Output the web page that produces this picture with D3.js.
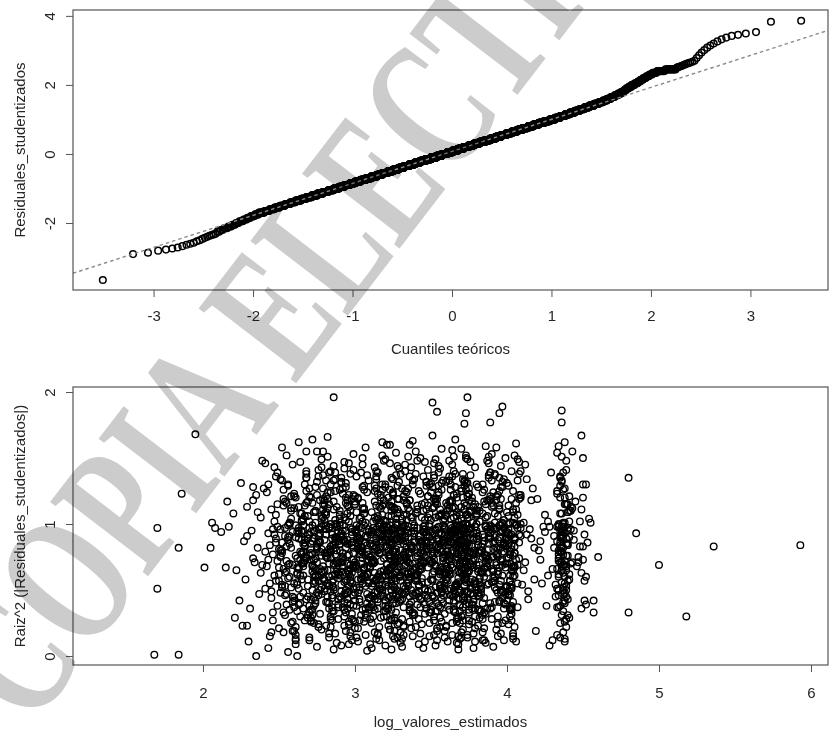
<!DOCTYPE html>
<html lang="es">
<head>
<meta charset="utf-8">
<title>Diagnóstico de residuos</title>
<script src="https://cdn.jsdelivr.net/npm/d3@7/dist/d3.min.js"></script>
<style>
  html, body { margin: 0; padding: 0; background: #fff; }
  svg { display: block; }
  .lbl { font-family: "Liberation Sans", Arial, Helvetica, sans-serif; font-size: 15px; fill: #262626; }
</style>
</head>
<body>
<svg id="chart" width="835" height="742"></svg>
<script>
// ---------------- data ----------------

// Studentized residuals (normal Q-Q panel), in ascending order.
// Lowest observations, one by one:
const residLowTail = [-3.65,-2.90,-2.86,-2.80,-2.77,-2.74,-2.71,-2.67,-2.63,-2.60,
  -2.57,-2.53,-2.50,-2.46,-2.43,-2.40,-2.37,-2.35,-2.33,-2.31];
// Central part as a frequency table: residual value and number of observations.
const residLevels = [-2.25,-2.20,-2.15,-2.10,-2.05,-2.00,-1.95,-1.90,-1.85,-1.80,-1.75,
  -1.70,-1.65,-1.60,-1.55,-1.50,-1.45,-1.40,-1.35,-1.30,-1.25,
  -1.20,-1.15,-1.10,-1.05,-1.00,-0.95,-0.90,-0.85,-0.80,-0.75,
  -0.70,-0.65,-0.60,-0.55,-0.50,-0.45,-0.40,-0.35,-0.30,-0.25,
  -0.20,-0.15,-0.10,-0.05,0.00,0.05,0.10,0.15,0.20,0.25,
  0.30,0.35,0.40,0.45,0.50,0.55,0.60,0.65,0.70,0.75,
  0.80,0.85,0.90,0.95,1.00,
  1.05,1.10,1.15,1.20,1.25,
  1.30,1.35,1.40,1.45,1.50,
  1.55,1.60,1.65,1.70,1.75,1.80,1.85,
  1.90,1.95,2.00,2.05,2.10,2.15,
  2.20,2.25,2.30,2.35,
  2.40,2.45];
const residCounts = [2,2,3,3,3,3,4,4,4,5,5,
  8,8,9,10,11,12,13,15,16,17,
  19,20,22,23,25,26,28,29,31,33,
  34,36,37,39,40,41,42,44,45,46,
  46,47,48,48,48,48,48,48,48,47,
  47,46,45,44,43,42,41,40,38,37,
  35,34,32,31,29,
  26,24,22,21,20,
  18,17,16,14,13,
  11,10,9,8,7,6,4,
  5,5,5,5,4,4,
  4,4,4,5,
  8,9];
// Highest observations, one by one:
const residHighTail = [2.50,2.52,2.53,2.55,2.57,2.59,2.61,2.63,2.65,2.67,
  2.70,2.78,2.86,2.94,3.01,3.08,3.14,3.20,3.26,3.32,
  3.37,3.42,3.45,3.49,3.53,3.83,3.86];

// Scale-location panel: log of fitted values vs square root of |studentized residual|.
// Isolated observations around the cloud:
const edgeLogFit = [1.68,1.84,2.35,2.62,1.70,1.70,1.84,1.86,1.95,2.01,2.05,2.06,2.08,2.12,2.15,2.16,2.17,2.20,2.21,2.29,2.33,2.41,2.43,2.45,
  2.86,3.74,3.51,3.54,3.97,3.95,3.73,3.89,3.72,4.36,4.36,4.49,2.72,2.68,2.79,3.18,3.23,3.36,3.51,
  4.80,4.85,5.36,5.93,5.00,4.80,5.18,4.57,4.57,4.60,4.49,4.50,4.50,4.51,4.48,4.49,4.50,4.50,4.43,4.38,4.51,4.52];
const edgeRootRes = [.01,.01,.00,.00,.51,.97,.82,1.23,1.68,.67,.82,1.01,.97,.94,.67,1.17,.98,1.08,.29,.23,1.28,1.46,1.30,.18,
  1.96,1.96,1.92,1.85,1.89,1.84,1.84,1.77,1.76,1.86,1.77,1.67,1.64,1.55,1.55,1.62,1.60,1.60,1.67,
  1.35,.93,.83,.84,.69,.33,.30,.33,.42,.75,.63,.73,.83,.92,1.02,1.11,1.20,1.30,1.55,.11,.42,.60];
// Main cloud:
const coreLogFit = [
  2.27,2.24,2.29,2.22,2.26,2.29,2.25,2.28,
  2.33,2.38,2.31,2.36,2.39,2.30,2.35,2.37,2.32,2.39,2.34,2.36,2.38,2.33,2.39,
  2.44,2.41,2.48,2.46,2.43,2.49,2.45,2.47,2.42,2.48,2.40,2.46,2.49,2.44,2.47,2.43,
  2.45,2.48,2.41,2.49,2.46,2.42,2.47,2.44,2.48,2.45,2.49,2.43,2.46,2.47,2.48,2.49,
  2.53,2.57,2.50,2.55,2.59,2.52,2.56,2.51,2.58,2.54,
  2.56,2.50,2.58,2.53,2.55,2.59,2.51,2.57,2.54,2.52,
  2.55,2.58,2.52,2.59,2.50,2.54,2.57,2.53,2.56,2.51,
  2.58,2.54,2.56,2.51,2.59,2.53,2.55,2.50,2.57,2.52,
  2.54,2.59,2.57,2.52,2.56,2.55,2.58,2.53,2.59,2.51,2.57,2.56,
  2.64,2.61,2.67,2.60,2.69,2.63,2.66,2.62,2.68,2.65,
  2.61,2.68,2.63,2.66,2.60,2.65,2.69,2.62,2.67,2.64,
  2.66,2.63,2.60,2.68,2.65,2.61,2.64,2.69,2.62,2.67,
  2.69,2.65,2.62,2.67,2.64,2.60,2.66,2.63,2.61,2.68,
  2.62,2.67,2.65,2.61,2.69,2.64,2.68,2.60,2.63,2.66,
  2.68,2.60,2.64,2.66,2.62,2.69,2.61,2.65,2.67,2.63,
  2.61,2.65,2.67,2.63,2.69,2.66,
  2.72,2.75,2.70,2.78,2.73,2.76,2.71,2.79,2.74,2.77,
  2.76,2.71,2.79,2.74,2.70,2.77,2.73,2.75,2.78,2.72,
  2.74,2.78,2.72,2.70,2.76,2.79,2.75,2.71,2.73,2.77,
  2.79,2.73,2.77,2.75,2.71,2.72,2.78,2.70,2.76,2.74,
  2.70,2.76,2.74,2.72,2.78,2.75,2.77,2.79,2.71,2.73,
  2.77,2.72,2.75,2.79,2.74,2.70,2.71,2.76,2.78,2.73,
  2.75,2.79,2.71,2.73,2.76,2.78,2.72,2.74,2.70,2.77,
  2.71,2.73,2.74,2.75,2.77,2.78,
  2.83,2.86,2.81,2.88,2.84,2.80,2.87,2.82,2.89,2.85,
  2.87,2.80,2.85,2.82,2.89,2.83,2.86,2.88,2.81,2.84,
  2.81,2.89,2.84,2.86,2.83,2.87,2.80,2.85,2.88,2.82,
  2.88,2.84,2.82,2.80,2.86,2.89,2.85,2.81,2.83,2.87,
  2.85,2.82,2.88,2.83,2.81,2.84,2.89,2.87,2.80,2.86,
  2.80,2.87,2.83,2.89,2.85,2.82,2.84,2.86,2.81,2.88,
  2.86,2.81,2.89,2.84,2.87,2.85,2.80,2.83,2.88,2.82,
  2.82,2.88,2.86,2.81,2.80,2.83,2.85,2.87,2.89,2.84,
  2.84,2.87,
  2.94,2.91,2.97,2.90,2.95,2.98,2.92,2.96,2.93,2.99,
  2.97,2.93,2.90,2.98,2.92,2.95,2.99,2.91,2.96,2.94,
  2.92,2.98,2.95,2.91,2.99,2.94,2.97,2.93,2.90,2.96,
  2.99,2.95,2.93,2.96,2.90,2.97,2.91,2.98,2.94,2.92,
  2.96,2.90,2.98,2.94,2.93,2.91,2.95,2.99,2.92,2.97,
  2.91,2.97,2.94,2.99,2.96,2.92,2.90,2.93,2.98,2.95,
  2.98,2.94,2.92,2.97,2.91,2.99,2.96,2.95,2.93,2.90,
  2.93,2.96,2.99,2.92,2.98,2.90,2.94,2.97,2.95,2.91,
  2.91,2.92,2.94,2.95,2.96,2.97,2.98,2.99,
  3.03,3.07,3.00,3.05,3.09,3.02,3.06,3.01,3.08,3.04,
  3.06,3.01,3.09,3.03,3.00,3.08,3.04,3.07,3.02,3.05,
  3.09,3.04,3.02,3.07,3.05,3.00,3.03,3.08,3.06,3.01,
  3.01,3.08,3.05,3.00,3.02,3.06,3.09,3.04,3.07,3.03,
  3.07,3.03,3.06,3.09,3.01,3.04,3.00,3.05,3.08,3.02,
  3.04,3.00,3.08,3.02,3.06,3.09,3.07,3.01,3.03,3.05,
  3.02,3.05,3.01,3.06,3.08,3.03,3.05,3.09,3.00,3.07,
  3.08,3.06,3.03,3.04,3.07,3.02,3.01,3.00,3.09,3.04,
  3.01,3.02,3.04,3.05,3.07,3.08,
  3.14,3.11,3.17,3.10,3.19,3.13,3.16,3.12,3.18,3.15,
  3.17,3.12,3.15,3.19,3.11,3.14,3.10,3.18,3.13,3.16,
  3.11,3.18,3.13,3.16,3.14,3.10,3.19,3.15,3.12,3.17,
  3.19,3.15,3.10,3.13,3.17,3.12,3.16,3.11,3.14,3.18,
  3.13,3.16,3.18,3.11,3.15,3.19,3.12,3.17,3.10,3.14,
  3.16,3.10,3.12,3.18,3.19,3.14,3.11,3.13,3.17,3.15,
  3.18,3.14,3.17,3.15,3.12,3.11,3.13,3.10,3.16,3.19,
  3.12,3.19,3.11,3.14,3.16,3.17,3.15,3.18,3.10,3.13,
  3.15,3.13,3.19,3.16,3.10,3.18,3.12,3.14,3.11,3.17,
  3.12,3.17,
  3.24,3.21,3.27,3.20,3.25,3.28,3.22,3.26,3.23,3.29,
  3.26,3.23,3.20,3.28,3.24,3.29,3.21,3.25,3.27,3.22,
  3.22,3.28,3.25,3.21,3.29,3.24,3.26,3.20,3.23,3.27,
  3.29,3.25,3.23,3.27,3.20,3.22,3.28,3.24,3.26,3.21,
  3.27,3.20,3.24,3.22,3.26,3.21,3.23,3.29,3.25,3.28,
  3.21,3.26,3.29,3.24,3.22,3.27,3.25,3.28,3.20,3.23,
  3.25,3.29,3.22,3.26,3.28,3.23,3.20,3.21,3.27,3.24,
  3.28,3.24,3.26,3.20,3.21,3.25,3.27,3.22,3.29,3.23,
  3.23,3.27,3.21,3.29,3.25,3.28,3.24,3.26,3.22,3.20,
  3.20,3.22,3.28,3.23,3.24,3.26,3.29,3.27,3.21,3.25,
  3.22,3.23,3.24,3.25,3.26,3.27,3.25,3.24,
  3.34,3.31,3.37,3.30,3.36,3.32,3.39,3.33,3.35,3.38,
  3.37,3.33,3.30,3.35,3.39,3.31,3.34,3.38,3.32,3.36,
  3.31,3.38,3.35,3.32,3.30,3.36,3.33,3.39,3.37,3.34,
  3.39,3.35,3.32,3.37,3.34,3.30,3.38,3.31,3.36,3.33,
  3.33,3.36,3.39,3.31,3.38,3.34,3.30,3.37,3.35,3.32,
  3.36,3.30,3.34,3.38,3.33,3.37,3.32,3.35,3.31,3.39,
  3.32,3.39,3.36,3.34,3.31,3.35,3.37,3.30,3.38,3.33,
  3.38,3.34,3.31,3.33,3.37,3.39,3.36,3.32,3.30,3.35,
  3.35,3.37,3.33,3.30,3.32,3.38,3.31,3.39,3.34,3.36,
  3.31,3.33,
  3.44,3.41,3.47,3.40,3.45,3.49,3.42,3.46,3.43,3.48,
  3.47,3.43,3.40,3.48,3.42,3.45,3.41,3.49,3.46,3.44,
  3.42,3.48,3.45,3.41,3.49,3.44,3.47,3.43,3.40,3.46,
  3.49,3.45,3.43,3.46,3.40,3.47,3.42,3.48,3.44,3.41,
  3.46,3.40,3.44,3.42,3.48,3.41,3.43,3.45,3.49,3.47,
  3.41,3.47,3.49,3.44,3.46,3.42,3.40,3.48,3.43,3.45,
  3.43,3.46,3.41,3.45,3.47,3.49,3.44,3.40,3.42,3.48,
  3.48,3.42,3.46,3.49,3.41,3.43,3.45,3.47,3.40,3.44,
  3.41,3.43,3.45,3.46,3.48,3.49,
  3.54,3.51,3.57,3.50,3.55,3.59,3.52,3.56,3.53,3.58,
  3.57,3.53,3.50,3.58,3.52,3.55,3.59,3.51,3.56,3.54,
  3.52,3.58,3.55,3.51,3.59,3.54,3.57,3.53,3.50,3.56,
  3.59,3.55,3.53,3.56,3.50,3.57,3.51,3.58,3.54,3.52,
  3.56,3.50,3.54,3.52,3.58,3.51,3.53,3.59,3.55,3.57,
  3.51,3.57,3.59,3.54,3.56,3.52,3.50,3.58,3.53,3.55,
  3.53,3.56,3.51,3.55,3.57,3.59,3.54,3.50,3.52,3.58,
  3.58,3.52,3.56,3.59,3.51,3.53,3.55,3.57,3.50,3.54,
  3.55,3.59,3.50,3.53,3.57,3.52,3.56,3.54,3.58,3.51,
  3.55,3.57,3.58,3.59,3.59,3.56,
  3.64,3.61,3.67,3.60,3.65,3.69,3.62,3.66,3.63,3.68,
  3.67,3.63,3.60,3.68,3.62,3.65,3.69,3.61,3.66,3.64,
  3.62,3.68,3.65,3.61,3.69,3.64,3.67,3.63,3.60,3.66,
  3.69,3.65,3.63,3.66,3.60,3.67,3.61,3.68,3.64,3.62,
  3.66,3.60,3.64,3.62,3.68,3.61,3.63,3.69,3.65,3.67,
  3.61,3.67,3.69,3.64,3.66,3.62,3.60,3.68,3.63,3.65,
  3.63,3.66,3.61,3.65,3.67,3.69,3.64,3.60,3.62,3.68,
  3.68,3.62,3.66,3.69,3.61,3.63,3.65,3.67,3.60,3.64,
  3.65,3.69,3.60,3.63,3.67,3.62,3.66,3.64,3.68,3.61,
  3.60,3.64,3.68,3.61,3.65,3.67,3.62,3.69,3.63,3.66,
  3.67,3.63,3.65,3.61,3.69,3.66,3.60,3.64,3.62,3.68,
  3.68,3.69,
  3.74,3.71,3.77,3.70,3.75,3.79,3.72,3.76,3.73,3.78,
  3.77,3.73,3.70,3.78,3.72,3.75,3.79,3.71,3.76,3.74,
  3.72,3.78,3.75,3.71,3.79,3.74,3.77,3.73,3.70,3.76,
  3.79,3.75,3.73,3.76,3.70,3.77,3.71,3.78,3.74,3.72,
  3.76,3.70,3.74,3.72,3.78,3.71,3.73,3.79,3.75,3.77,
  3.71,3.77,3.79,3.74,3.76,3.72,3.70,3.78,3.73,3.75,
  3.73,3.76,3.71,3.75,3.77,3.79,3.74,3.70,3.72,3.78,
  3.78,3.72,3.76,3.79,3.71,3.73,3.75,3.77,3.70,3.74,
  3.75,3.79,3.70,3.73,3.77,3.72,3.76,3.74,3.78,3.71,
  3.70,3.74,3.78,3.71,3.75,3.77,3.72,3.79,3.73,3.76,
  3.72,3.73,3.74,3.71,3.75,3.72,3.70,3.73,3.71,3.74,
  3.72,3.73,3.74,3.75,3.71,3.72,3.73,3.74,
  3.84,3.81,3.87,3.80,3.85,3.89,3.82,3.86,3.83,3.88,
  3.87,3.83,3.80,3.88,3.82,3.85,3.89,3.81,3.86,3.84,
  3.82,3.88,3.85,3.81,3.89,3.84,3.87,3.83,3.80,3.86,
  3.89,3.85,3.83,3.86,3.80,3.87,3.81,3.88,3.84,3.82,
  3.86,3.80,3.84,3.82,3.88,3.81,3.83,3.89,3.85,3.87,
  3.81,3.87,3.89,3.84,3.86,3.82,3.80,3.88,3.83,3.85,
  3.83,3.86,3.81,3.85,3.87,3.89,3.84,3.80,3.82,3.88,
  3.88,3.82,3.86,3.89,3.81,3.83,3.85,3.87,3.80,3.84,
  3.81,3.85,
  3.94,3.91,3.97,3.90,3.95,3.99,3.92,3.96,3.93,3.98,
  3.97,3.93,3.90,3.98,3.92,3.95,3.99,3.91,3.96,3.94,
  3.92,3.98,3.95,3.91,3.99,3.94,3.97,3.93,3.90,3.96,
  3.99,3.95,3.93,3.96,3.90,3.97,3.91,3.98,3.94,3.92,
  3.96,3.90,3.94,3.92,3.98,3.91,3.93,3.99,3.95,3.97,
  3.91,3.97,3.99,3.94,3.96,3.92,3.90,3.98,3.93,3.95,
  3.93,3.96,3.91,3.95,3.97,3.99,3.94,3.90,3.92,3.98,
  3.91,3.92,3.94,3.95,3.97,3.98,3.99,3.96,
  4.04,4.01,4.07,4.00,4.05,4.09,4.02,4.06,4.03,4.08,
  4.07,4.03,4.00,4.08,4.02,4.05,4.09,4.01,4.06,4.04,
  4.02,4.08,4.05,4.01,4.09,4.04,4.07,4.03,4.00,4.06,
  4.09,4.05,4.03,4.06,4.00,4.07,4.01,4.08,4.04,4.02,
  4.06,4.00,4.04,4.02,4.08,4.01,4.03,4.09,4.05,4.07,
  4.01,4.07,4.09,4.04,4.06,4.02,4.00,4.08,4.03,4.05,
  4.00,4.01,4.01,4.02,4.02,4.03,4.03,4.04,4.04,4.05,
  4.05,4.06,4.00,4.03,
  4.13,4.10,4.17,4.12,4.15,4.19,4.11,4.16,4.14,4.18,4.11,4.13,4.14,4.16,4.18,4.12,
  4.24,4.21,4.27,4.20,4.26,4.22,4.29,4.23,4.25,4.28,4.22,4.25,4.27,4.28,
  4.36,4.33,4.39,4.31,4.37,4.34,4.40,4.35,4.38,4.42,
  4.38,4.34,4.41,4.36,4.30,4.39,4.33,4.37,4.35,4.40,
  4.35,4.40,4.37,4.33,4.42,4.36,4.39,4.34,4.38,4.32,
  4.41,4.37,4.35,4.39,4.34,4.38,4.36,4.43,4.33,4.40,
  4.39,4.35,4.38,4.40,4.36,4.33,4.41,4.37,4.34,4.44,
  4.33,4.38,4.42,4.35,4.39,4.37,4.34,4.40,4.36,4.31,
  4.37,4.41,4.34,4.38,4.36,4.39,4.35,4.33,4.42,4.38,
  4.40,4.36,4.39,4.34,4.37,4.35,4.43,4.38,4.41,4.36,
  4.34,4.37,4.35,4.40,4.32,4.38,4.36,4.39,4.37,4.45,
  4.36,4.38,4.35,4.37,4.39,4.34,4.30,4.44,4.41,4.37,
  4.47,4.52,4.49,4.55,4.46,4.50,4.53,4.48,4.51,4.54,4.47,4.52];
const coreRootRes = [
  .87,.42,1.13,.65,.23,.91,1.31,.58,.74,1.05,.36,.82,.69,.11,1.22,.47,.95,1.48,.71,1.09,
  .63,1.18,.29,.84,.51,1.36,.77,.06,.98,.44,1.02,.68,.89,1.27,.33,.72,.55,1.43,.93,1.11,
  1.07,.79,.38,.96,1.24,.61,.15,.86,.49,1.15,.73,.27,.92,.57,1.39,.66,1.01,.81,1.52,.45,
  .54,.99,.76,1.21,.31,.88,.62,1.04,.18,.83,.41,1.34,.70,.97,.52,1.16,.25,.78,1.45,.67,
  .91,.35,1.26,.59,.80,1.10,.46,.03,.75,.94,1.19,.64,.21,.85,1.33,.53,.69,1.00,1.58,.90,
  .47,.82,1.14,.26,.96,.60,1.29,.73,.13,.88,.55,1.06,.39,.79,.67,1.38,.94,1.20,.43,1.62,
  .71,1.23,.58,.92,.34,.84,1.08,.48,.66,.19,1.40,.77,.99,.30,1.17,.62,.86,.53,1.03,.74,
  .83,.40,1.12,.68,.97,.22,1.35,.56,.75,1.02,.09,.89,.61,1.25,.44,.93,.70,1.16,.37,1.47,
  1.04,.63,.29,.90,.78,1.30,.51,.16,.95,.72,1.13,.45,.85,.64,1.22,.33,.98,.57,1.41,.81,
  .59,1.09,.86,.24,.73,1.37,.42,.92,1.18,.67,.07,.81,.50,1.01,.76,.35,1.27,.96,.64,1.55,
  .94,.38,.79,1.15,.55,.87,1.32,.27,.69,1.06,.12,.91,.61,1.21,.46,.74,.99,1.43,.82,.66,
  .68,1.20,.44,.97,.31,.83,1.05,.60,.14,.78,1.36,.52,.89,.71,1.11,.26,.95,.57,1.49,.87,
  1.10,.76,.32,.85,.62,1.28,.48,.93,.20,.70,1.17,.41,.80,1.00,.58,1.39,.65,.88,.37,1.03,
  .57,.92,1.24,.39,.81,.05,.66,1.09,.49,.99,.28,.75,1.33,.60,.86,1.14,.44,.72,1.51,.90,
  .79,.45,1.03,.70,.94,.34,1.21,.53,.17,.84,1.12,.64,.97,.23,1.30,.59,.77,.88,1.44,1.08,
  .62,1.15,.87,.27,.74,1.40,.50,.96,.10,.69,1.07,.43,.83,1.25,.56,.78,.36,.98,1.19,1.66,
  .98,.52,.76,1.18,.40,.89,1.34,.63,.22,.81,1.00,.47,.71,.15,1.26,.58,.92,.68,1.46,1.05,
  .73,1.06,.30,.91,.55,1.23,.85,.46,.08,.77,1.16,.37,.94,.65,1.31,.51,.82,.60,1.42,.99,
  1.13,.67,.43,.88,.26,.80,1.38,.54,.96,.19,.72,1.02,.61,.84,1.20,.35,.90,.48,1.53,.75,
  .56,.93,1.10,.33,.78,.64,1.27,.45,.87,.12,.70,1.19,.50,.99,.39,1.35,.82,.62,1.08,1.47,
  .85,.41,1.22,.69,.95,.28,1.04,.57,.18,.76,1.32,.49,.88,.63,1.14,.24,.97,.73,1.41,.80,
  .60,1.17,.79,.37,.90,1.29,.52,.04,.83,.66,1.09,.44,.98,.71,1.24,.31,.86,.58,1.50,.94,
  .92,.48,1.01,.74,.21,.87,1.37,.61,.96,.14,.68,1.12,.42,.81,1.26,.55,.77,.36,1.04,1.58,
  .77,1.08,.35,.93,.58,1.21,.82,.47,.11,.70,1.15,.40,.89,.65,1.33,.53,.99,.27,1.45,.86,
  1.02,.69,.26,.84,.50,1.28,.73,.95,.16,.62,1.11,.43,.80,.91,1.19,.38,.67,.56,1.39,.88,
  .66,.97,1.16,.32,.79,1.34,.46,.87,.09,.74,1.05,.54,.92,.60,1.23,.29,.83,.41,1.48,.71,
  .89,.44,1.07,.63,.98,.25,1.30,.57,.78,.13,.85,1.18,.49,.72,1.01,.34,.94,.68,1.43,1.12,
  .70,1.13,.39,.86,.61,1.25,.51,.96,.06,.80,1.03,.45,.91,.67,1.36,.22,.75,.59,1.52,.97,
  .96,.53,.81,1.20,.36,.90,1.27,.64,.17,.73,1.09,.48,.85,.62,1.15,.30,.99,.76,1.40,1.00,
  .58,1.04,.87,.28,.71,1.39,.43,.93,.12,.67,1.14,.55,.82,.95,1.22,.37,.78,.50,1.60,.88,
  .83,.46,1.11,.65,.92,.20,1.32,.59,.74,.08,.89,1.06,.41,.69,1.24,.33,.97,.62,1.44,.79,
  .64,1.19,.35,.94,.54,1.26,.81,.47,.15,.76,1.01,.42,.88,.72,1.35,.27,.98,.57,1.49,.85,
  1.06,.72,.30,.87,.49,1.22,.66,.91,.19,.60,1.13,.44,.79,.96,1.29,.38,.84,.53,1.42,.93,
  .75,.99,1.14,.34,.82,1.37,.50,.89,.05,.68,1.02,.56,.93,.63,1.20,.25,.77,.45,1.54,.70,
  .90,.43,1.08,.67,.97,.23,1.28,.61,.80,.14,.86,1.17,.52,.74,1.04,.36,.95,.65,1.46,1.10,
  .69,1.12,.40,.85,.58,1.24,.48,.94,.10,.78,1.07,.46,.90,.71,1.33,.21,.79,.60,1.51,.99,
  .97,.55,.83,1.18,.39,.91,1.30,.63,.16,.72,1.10,.51,.86,.64,1.16,.32,.98,.77,1.43,1.03,
  .61,1.05,.88,.26,.74,1.40,.45,.95,.13,.66,1.15,.57,.84,.93,1.21,.35,.80,.49,1.63,.87,
  .84,.47,1.12,.66,.93,.22,1.34,.60,.75,.07,.90,1.05,.42,.70,1.25,.31,.96,.63,1.45,.81,
  .65,1.18,.37,.95,.53,1.27,.82,.48,.18,.77,1.02,.43,.87,.73,1.36,.28,.99,.56,1.48,.86,
  1.08,.71,.33,.88,.50,1.23,.67,.92,.17,.61,1.14,.45,.78,.97,1.30,.39,.85,.54,1.41,.94,
  .76,.98,1.15,.36,.83,1.38,.51,.90,.06,.69,1.03,.57,.94,.64,1.21,.24,.78,.46,1.55,.72,
  .91,.44,1.09,.68,.96,.25,1.29,.62,.81,.15,.87,1.16,.53,.75,1.05,.37,.94,.66,1.47,1.11,
  .70,1.11,.41,.86,.59,1.25,.49,.95,.09,.79,1.08,.47,.91,.72,1.32,.22,.80,.61,1.50,.98,
  .96,.56,.84,1.19,.38,.92,1.31,.64,.14,.73,1.11,.52,.87,.65,1.17,.33,.99,.78,1.44,1.04,
  .62,1.06,.89,.27,.75,1.39,.46,.96,.12,.67,1.16,.58,.85,.94,1.22,.34,.81,.50,1.57,.88,
  .85,.48,1.13,.67,.94,.21,1.35,.61,.76,.08,.91,1.06,.43,.71,1.26,.32,.97,.64,1.46,.82,
  .66,1.19,.38,.96,.54,1.28,.83,.49,.19,.78,1.03,.44,.88,.74,1.37,.29,.98,.57,1.49,.87,
  1.07,.72,.34,.89,.51,1.24,.68,.93,.16,.62,1.15,.46,.79,.98,1.31,.40,.86,.55,1.42,.95,
  .77,.99,1.16,.35,.84,1.36,.52,.91,.05,.70,1.04,.58,.95,.65,1.22,.25,.79,.47,1.56,.73,
  .92,.45,1.10,.69,.97,.26,1.30,.63,.82,.13,.88,1.17,.54,.76,1.06,.38,.95,.67,1.48,1.12,
  .71,1.12,.42,.87,.60,1.26,.50,.96,.10,.80,1.09,.48,.92,.73,1.33,.23,.81,.62,1.51,.99,
  .95,.57,.85,1.20,.39,.93,1.32,.65,.15,.74,1.12,.53,.88,.66,1.18,.34,.98,.79,1.45,1.05,
  .63,1.07,.90,.28,.76,1.38,.47,.97,.11,.68,1.17,.59,.86,.95,1.23,.35,.82,.51,1.64,.89,
  .86,.49,1.14,.68,.95,.22,1.36,.62,.77,.09,.92,1.07,.44,.72,1.27,.33,.98,.65,1.47,.83,
  .67,1.20,.39,.97,.55,1.29,.84,.50,.20,.79,1.04,.45,.89,.75,1.38,.30,.99,.58,1.50,.88,
  1.09,.73,.35,.90,.52,1.25,.69,.94,.17,.63,1.16,.47,.80,.99,1.32,.41,.87,.56,1.43,.96,
  .78,1.00,1.17,.36,.85,1.37,.53,.92,.06,.71,1.05,.59,.96,.66,1.23,.26,.80,.48,1.57,.74,
  .93,.46,1.11,.70,.98,.27,1.31,.64,.83,.14,.89,1.18,.55,.77,1.07,.39,.96,.68,1.49,1.13,
  .72,1.13,.43,.88,.61,1.27,.51,.97,.11,.81,1.10,.49,.93,.74,1.34,.24,.82,.63,1.52,1.00,
  .94,.58,.86,1.21,.40,.94,1.33,.66,.16,.75,1.13,.54,.89,.67,1.19,.35,.99,.80,1.46,1.06,
  .64,1.08,.91,.29,.77,1.39,.48,.98,.12,.69,1.18,.60,.87,.96,1.24,.36,.83,.52,1.59,.90,
  .87,.50,1.15,.69,.96,.23,1.37,.63,.78,.10,.93,1.08,.45,.73,1.28,.34,.99,.66,1.48,.84,
  .68,1.21,.40,.98,.56,1.30,.85,.51,.21,.80,1.05,.46,.90,.76,1.39,.31,1.00,.59,1.51,.89,
  1.10,.74,.36,.91,.53,1.26,.70,.95,.18,.64,1.17,.48,.81,1.00,1.33,.42,.88,.57,1.44,.97,
  .79,1.01,1.18,.37,.86,1.38,.54,.93,.07,.72,1.06,.60,.97,.67,1.24,.27,.81,.49,1.58,.75,
  .94,.47,1.12,.71,.99,.28,1.32,.65,.84,.15,.90,1.19,.56,.78,1.08,.40,.97,.69,1.50,1.14,
  .73,1.14,.44,.89,.62,1.28,.52,.98,.12,.82,1.11,.50,.94,.75,1.35,.25,.83,.64,1.53,1.01,
  .97,.59,.87,1.22,.41,.95,1.34,.67,.17,.76,1.14,.55,.90,.68,1.20,.36,1.00,.81,1.47,1.07,
  .65,1.09,.92,.30,.78,1.40,.49,.99,.13,.70,1.19,.61,.88,.97,1.25,.37,.84,.53,1.61,.91,
  .88,.51,1.16,.70,.97,.24,1.38,.64,.79,.11,.94,1.09,.46,.74,1.29,.35,1.00,.67,1.49,.85,
  .69,1.22,.41,.99,.57,1.31,.86,.52,.22,.81,1.06,.47,.91,.77,1.40,.32,1.01,.60,1.52,.90,
  1.11,.75,.37,.92,.54,1.27,.71,.96,.19,.65,1.18,.49,.82,1.01,1.34,.43,.89,.58,1.45,.98,
  .80,1.02,1.19,.38,.87,1.39,.55,.94,.08,.73,1.07,.61,.98,.68,1.25,.28,.82,.50,1.59,.76,
  .95,.48,1.13,.72,1.00,.29,1.33,.66,.85,.16,.91,1.20,.57,.79,1.09,.41,.98,.70,1.51,1.15,
  .74,1.15,.45,.90,.63,1.29,.53,.99,.13,.83,1.12,.51,.95,.76,1.36,.26,.84,.65,1.54,1.02,
  .98,.60,.88,1.23,.42,.96,1.35,.68,.18,.77,1.15,.56,.91,.69,1.21,.37,1.01,.82,1.48,1.08,
  .66,1.10,.93,.31,.79,1.41,.50,1.00,.14,.71,1.20,.62,.89,.98,1.26,.38,.85,.54,1.62,.92,
  .89,.52,1.17,.71,.98,.25,1.39,.65,.80,.12,.95,1.10,.47,.75,1.30,.36,1.01,.68,1.50,.86,
  .83,.57,1.04,.71,.39];
// Densest part of the cloud:
const denseLogFit = [
  2.55,2.51,2.58,2.53,2.57,2.50,2.56,2.52,2.59,2.54,2.57,2.55,2.52,2.58,2.54,2.56,
  2.63,2.67,2.61,2.65,2.69,2.62,2.66,2.60,2.68,2.64,2.65,2.61,2.67,2.63,2.69,2.66,2.62,2.68,2.64,2.60,2.66,2.63,2.67,2.65,
  2.75,2.71,2.78,2.73,2.77,2.70,2.76,2.72,2.79,2.74,
  2.72,2.77,2.74,2.79,2.71,2.75,2.78,2.70,2.73,2.76,
  2.78,2.74,2.71,2.76,2.73,2.79,2.72,2.75,2.70,2.77,
  2.85,2.81,2.88,2.83,2.87,2.80,2.86,2.82,2.89,2.84,
  2.82,2.87,2.84,2.89,2.81,2.85,2.88,2.80,2.83,2.86,
  2.88,2.84,2.81,2.86,2.83,2.89,2.82,2.85,2.80,2.87,
  2.84,2.86,2.83,2.85,
  2.95,2.91,2.98,2.93,2.97,2.90,2.96,2.92,2.99,2.94,
  2.92,2.97,2.94,2.99,2.91,2.95,2.98,2.90,2.93,2.96,
  2.98,2.94,2.91,2.96,2.93,2.99,2.92,2.95,2.90,2.97,
  2.94,2.96,2.93,2.95,
  3.05,3.01,3.08,3.03,3.07,3.00,3.06,3.02,3.09,3.04,
  3.02,3.07,3.04,3.09,3.01,3.05,3.08,3.00,3.03,3.06,
  3.08,3.04,3.01,3.06,3.03,3.09,3.02,3.05,3.00,3.07,
  3.04,3.06,
  3.15,3.11,3.18,3.13,3.17,3.10,3.16,3.12,3.19,3.14,
  3.12,3.17,3.14,3.19,3.11,3.15,3.18,3.10,3.13,3.16,
  3.18,3.14,3.11,3.16,3.13,3.19,3.12,3.15,3.10,3.17,
  3.14,3.16,3.13,3.15,3.17,3.18,
  3.25,3.21,3.28,3.23,3.27,3.20,3.26,3.22,3.29,3.24,
  3.22,3.27,3.24,3.29,3.21,3.25,3.28,3.20,3.23,3.26,
  3.28,3.24,3.21,3.26,3.23,3.29,3.22,3.25,3.20,3.27,
  3.24,3.26,3.23,3.25,3.27,3.22,3.24,3.26,3.25,3.23,
  3.26,3.24,3.25,3.27,3.23,3.25,
  3.35,3.31,3.38,3.33,3.37,3.30,3.36,3.32,3.39,3.34,
  3.32,3.37,3.34,3.39,3.31,3.35,3.38,3.30,3.33,3.36,
  3.38,3.34,3.31,3.36,3.33,3.39,3.32,3.35,3.30,3.37,
  3.34,3.36,3.33,3.35,3.31,3.32,
  3.45,3.41,3.48,3.43,3.47,3.40,3.46,3.42,3.49,3.44,
  3.42,3.47,3.44,3.49,3.41,3.45,3.48,3.40,3.43,3.46,
  3.48,3.44,3.41,3.46,3.43,3.49,3.42,3.45,3.40,3.47,
  3.44,3.46,
  3.55,3.51,3.58,3.53,3.57,3.50,3.56,3.52,3.59,3.54,
  3.52,3.57,3.54,3.59,3.51,3.55,3.58,3.50,3.53,3.56,
  3.58,3.54,3.51,3.56,3.53,3.59,3.52,3.55,3.50,3.57,
  3.54,3.56,3.53,3.55,3.57,3.58,
  3.65,3.61,3.68,3.63,3.67,3.60,3.66,3.62,3.69,3.64,
  3.62,3.67,3.64,3.69,3.61,3.65,3.68,3.60,3.63,3.66,
  3.68,3.64,3.61,3.66,3.63,3.69,3.62,3.65,3.60,3.67,
  3.64,3.66,3.63,3.65,3.67,3.68,3.69,3.66,3.68,3.67,
  3.65,3.69,3.66,3.68,3.64,3.67,
  3.75,3.71,3.78,3.73,3.77,3.70,3.76,3.72,3.79,3.74,
  3.72,3.77,3.74,3.79,3.71,3.75,3.78,3.70,3.73,3.76,
  3.78,3.74,3.71,3.76,3.73,3.79,3.72,3.75,3.70,3.77,
  3.74,3.76,3.73,3.75,3.71,3.72,3.70,3.73,3.71,3.74,
  3.72,3.73,3.71,3.70,3.72,3.74,3.73,3.71,3.72,3.75,
  3.73,3.72,
  3.85,3.81,3.88,3.83,3.87,3.80,3.86,3.82,3.89,3.84,
  3.82,3.87,3.84,3.89,3.81,3.85,3.88,3.80,3.83,3.86,
  3.88,3.84,3.81,3.86,3.83,3.89,3.82,3.85,3.80,3.87,
  3.84,3.86,
  3.95,3.91,3.98,3.93,3.97,3.90,3.96,3.92,3.99,3.94,
  3.92,3.97,3.94,3.99,3.91,3.95,3.98,3.90,3.93,3.96,
  3.98,3.94,3.91,3.96,3.93,3.99,3.92,3.95,3.90,3.97,
  3.94,3.96,
  4.03,4.01,4.05,4.02,4.04,4.00,4.06,4.01,4.03,4.05,
  4.02,4.04,4.00,4.03,4.01,4.05,4.02,4.07,4.04,4.03,
  4.00,4.02,4.04,4.01,4.03,4.05,4.02,4.08,4.01,4.04,
  4.37,4.34,4.40,4.36,4.33,4.39,4.35,4.38,4.41,4.36,
  4.38,4.35,4.37,4.34,4.40,4.36,4.39,4.37,4.35,4.38,
  4.36,4.39,4.34,4.37,4.40,4.35,4.38,4.36,4.33,4.37,
  4.39,4.36,4.38,4.35];
const denseRootRes = [
  .72,.48,1.12,.33,.91,.57,1.30,.80,.19,.63,1.01,.39,.86,.52,1.17,.69,.95,.27,.76,1.08,
  .58,.94,.36,1.21,.74,.45,.88,.12,1.06,.67,.31,.99,.54,1.35,.79,.42,.61,.89,1.14,.70,
  .83,.29,.64,1.09,.50,.97,.22,.77,1.19,.40,.68,.93,.56,1.27,.35,.85,.47,1.02,.73,.60,
  1.04,.66,.43,.87,.25,.59,1.16,.81,.38,.96,.53,1.33,.71,.14,.90,.49,1.11,.78,.62,.28,
  .55,.89,1.24,.37,.75,.46,1.00,.65,.17,.84,1.13,.30,.92,.58,1.39,.70,.41,.97,.51,.82,
  .79,.34,.98,.61,1.18,.44,.86,.23,.69,1.07,.53,.91,.38,1.28,.74,.57,1.03,.27,.64,.88,
  .63,1.10,.47,.85,.32,.95,.71,.09,.56,1.22,.78,.40,1.01,.66,1.31,.49,.87,.36,.60,.93,
  .90,.52,.29,1.15,.67,.83,.44,1.05,.21,.76,.59,.96,1.36,.35,.73,.48,.89,1.12,.62,.80,
  .68,.99,.41,.77,1.20,.55,.26,.86,.63,1.08,.16,.94,.50,1.29,.72,.37,.81,1.02,.45,.58,
  .84,.46,1.14,.30,.70,.60,1.26,.92,.18,.78,.54,1.03,.39,.88,1.17,.65,.97,.43,.75,.51,
  .57,.93,.35,1.06,.82,.48,1.34,.64,.24,.99,.71,.42,1.11,.53,.87,.28,.76,1.00,.61,.68,
  1.02,.62,.44,.88,.27,.73,1.19,.55,.95,.13,.66,1.09,.36,.80,1.30,.50,.91,.59,.77,.40,
  .74,.38,.96,.52,1.13,.67,.29,.85,1.23,.46,.20,.79,.58,1.04,.33,.90,.63,1.38,.70,.98,
  .61,1.07,.85,.41,.72,.31,1.01,.56,.15,.93,.69,1.18,.47,.83,1.27,.37,.64,.97,.53,.78,
  .88,.50,1.16,.34,.76,.62,.94,.23,1.10,.57,.81,.43,1.32,.67,.99,.28,.73,1.05,.49,.86,
  .66,.95,.39,.83,1.21,.48,.71,.11,.90,.59,1.14,.32,.78,1.00,.54,1.36,.62,.87,.44,.75,
  .93,.45,1.03,.69,.26,.86,.53,1.19,.77,.19,.64,1.08,.40,.97,.58,1.29,.72,.35,.84,.51,
  .52,.81,1.12,.37,.95,.63,.30,1.24,.70,.48,.89,.22,1.05,.60,.79,1.33,.42,.91,.56,.74,
  .78,1.06,.47,.89,.34,.67,1.17,.55,.16,.98,.73,.41,1.02,.62,.87,1.28,.29,.80,.50,.94,
  .69,.38,.92,1.13,.58,.82,.25,.99,.46,1.22,.75,.64,1.07,.33,.86,.53,1.40,.71,.96,.44,
  .86,.54,1.09,.31,.74,.60,1.01,.18,.90,.45,1.15,.68,.83,.39,1.31,.57,.97,.27,.77,.65,
  .60,.97,.43,.80,1.20,.51,.72,.21,.88,.65,1.04,.36,.94,.56,1.26,.78,.47,1.11,.30,.84,
  .95,.49,.76,1.14,.37,.87,.62,.14,1.00,.70,.42,1.23,.58,.91,.33,.79,1.35,.53,.68,1.06,
  .71,1.02,.40,.85,.59,1.18,.28,.93,.66,.12,.81,1.10,.47,.98,.55,1.30,.35,.76,.63,.89,
  .80,.44,1.07,.63,.92,.32,1.25,.56,.85,.20,.69,1.13,.50,.96,.39,.75,1.37,.61,.88,.52,
  .64,.90,.36,1.16,.77,.48,1.03,.24,.86,.57,1.21,.70,.41,.99,.66,1.28,.30,.82,.54,.93,
  .89,.57,1.11,.42,.73,.96,.27,1.05,.61,.17,.84,1.19,.46,.78,.35,1.33,.68,.92,.53,1.01,
  .67,1.00,.38,.83,.52,1.22,.74,.15,.95,.62,1.09,.31,.87,.45,.79,1.27,.58,.98,.40,.71,
  .82,.46,.97,.65,1.15,.34,.90,.55,1.08,.22,.72,1.01,.43,.86,.60,1.32,.37,.77,.50,.94,
  .69,.84];

// Axis ticks
const qqXTicks = [-3,-2,-1,0,1,2,3];
const qqYTicks = [-2,0,2,4];
const slXTicks = [2,3,4,5,6];
const slYTicks = [0,1,2];

// Titles
const qqXTitle = "Cuantiles teóricos";
const qqYTitle = "Residuales_studentizados";
const slXTitle = "log_valores_estimados";
const slYTitle = "Raiz^2 (|Residuales_studentizados|)";
const stampText = "COPIA ELECTRONICA";

// ---------------- helpers ----------------

// Inverse of the standard normal CDF (Acklam's rational approximation).
function qnorm(p) {
  const a = [-3.969683028665376e+01, 2.209460984245205e+02, -2.759285104469687e+02,
             1.383577518672690e+02, -3.066479806614716e+01, 2.506628277459239e+00];
  const b = [-5.447609879822406e+01, 1.615858368580409e+02, -1.556989798598866e+02,
             6.680131188771972e+01, -1.328068155288572e+01];
  const c = [-7.784894002430293e-03, -3.223964580411365e-01, -2.400758277161838e+00,
             -2.549732539343734e+00, 4.374664141464968e+00, 2.938163982698783e+00];
  const d = [7.784695709041462e-03, 3.224671290700398e-01, 2.445134137142996e+00,
             3.754408661907416e+00];
  const pl = 0.02425, ph = 1 - pl;
  let q, r;
  if (p < pl) {
    q = Math.sqrt(-2 * Math.log(p));
    return (((((c[0]*q+c[1])*q+c[2])*q+c[3])*q+c[4])*q+c[5]) /
           ((((d[0]*q+d[1])*q+d[2])*q+d[3])*q+1);
  }
  if (p > ph) {
    q = Math.sqrt(-2 * Math.log(1 - p));
    return -(((((c[0]*q+c[1])*q+c[2])*q+c[3])*q+c[4])*q+c[5]) /
            ((((d[0]*q+d[1])*q+d[2])*q+d[3])*q+1);
  }
  q = p - 0.5; r = q * q;
  return (((((a[0]*r+a[1])*r+a[2])*r+a[3])*r+a[4])*r+a[5])*q /
         (((((b[0]*r+b[1])*r+b[2])*r+b[3])*r+b[4])*r+1);
}

// ---------------- layout ----------------
const svg = d3.select("#chart");
const topBox = { x0: 73, x1: 828, y0: 10, y1: 290 };
const botBox = { x0: 73, x1: 828, y0: 387, y1: 665 };

const xQ = d3.scaleLinear().domain([-3.81, 3.78]).range([topBox.x0, topBox.x1]);
const yQ = d3.scaleLinear().domain([-3.94, 4.17]).range([topBox.y1, topBox.y0]);
const xF = d3.scaleLinear().domain([1.145, 6.112]).range([botBox.x0, botBox.x1]);
const yF = d3.scaleLinear().domain([-0.068, 2.038]).range([botBox.y1, botBox.y0]);

svg.append("rect").attr("width", 835).attr("height", 742).attr("fill", "#fff");

const defs = svg.append("defs");
defs.append("clipPath").attr("id", "clipTop").append("rect")
  .attr("x", topBox.x0).attr("y", topBox.y0)
  .attr("width", topBox.x1 - topBox.x0).attr("height", topBox.y1 - topBox.y0);

const pointStyle = (sel, width) => sel
  .attr("r", 3.3)
  .attr("fill", "none")
  .attr("stroke", "#000")
  .attr("stroke-width", width);

function drawAxes(xs, ys, xt, yt, box, xLabelGap, yLabelGap) {
  const fmt = d => String(d);
  const gx = svg.append("g").attr("transform", `translate(0,${box.y1})`)
    .call(d3.axisBottom(xs).tickValues(xt).tickSize(7).tickFormat(fmt));
  gx.select(".domain").remove();
  gx.selectAll(".tick line").attr("stroke", "#555");
  gx.selectAll(".tick text").attr("class", "lbl")
    .attr("y", xLabelGap).attr("dy", null)
    .attr("dominant-baseline", "central");

  const gy = svg.append("g").attr("transform", `translate(${box.x0},0)`)
    .call(d3.axisLeft(ys).tickValues(yt).tickSize(7).tickFormat(fmt));
  gy.select(".domain").remove();
  gy.selectAll(".tick line").attr("stroke", "#555");
  gy.selectAll(".tick text").attr("class", "lbl")
    .attr("x", 0).attr("y", -yLabelGap).attr("dy", null)
    .attr("text-anchor", "middle")
    .attr("dominant-baseline", "central")
    .attr("transform", "rotate(-90)");

  svg.append("rect")
    .attr("x", box.x0).attr("y", box.y0)
    .attr("width", box.x1 - box.x0).attr("height", box.y1 - box.y0)
    .attr("fill", "none").attr("stroke", "#555").attr("stroke-width", 1.2);
}

function drawTitles(box, xTitle, yTitle, xTitleY) {
  const cx = (box.x0 + box.x1) / 2, cy = (box.y0 + box.y1) / 2;
  svg.append("text").attr("class", "lbl")
    .attr("x", cx).attr("y", xTitleY)
    .attr("text-anchor", "middle").attr("dominant-baseline", "central")
    .text(xTitle);
  svg.append("text").attr("class", "lbl")
    .attr("transform", `translate(19,${cy}) rotate(-90)`)
    .attr("text-anchor", "middle").attr("dominant-baseline", "central")
    .text(yTitle);
}

// ---------------- normal Q-Q panel ----------------
const resid = [];
residLowTail.forEach(v => resid.push(v));
residLevels.forEach((v, i) => { for (let k = 0; k < residCounts[i]; k++) resid.push(v); });
residHighTail.forEach(v => resid.push(v));
resid.sort(d3.ascending);

const nQ = resid.length;
const aPP = nQ <= 10 ? 3 / 8 : 0.5;
const qqPoints = resid.map((r, i) => ({ q: qnorm((i + 1 - aPP) / (nQ + 1 - 2 * aPP)), r }));

svg.append("g").selectAll("circle").data(qqPoints).join("circle")
  .attr("cx", d => xQ(d.q)).attr("cy", d => yQ(d.r))
  .call(pointStyle, 1.5);

// Reference line through the first and third quartiles
const r1 = d3.quantile(resid, 0.25), r3 = d3.quantile(resid, 0.75);
const q1 = qnorm(0.25), q3 = qnorm(0.75);
const slope = (r3 - r1) / (q3 - q1);
const intercept = r1 - slope * q1;
const [xa, xb] = xQ.domain();
svg.append("line")
  .attr("clip-path", "url(#clipTop)")
  .attr("x1", xQ(xa)).attr("y1", yQ(intercept + slope * xa))
  .attr("x2", xQ(xb)).attr("y2", yQ(intercept + slope * xb))
  .attr("stroke", "#8a8a8a").attr("stroke-width", 1.4)
  .attr("stroke-dasharray", "3.5,3");

drawAxes(xQ, yQ, qqXTicks, qqYTicks, topBox, 25, 24);
drawTitles(topBox, qqXTitle, qqYTitle, 348);

// ---------------- scale-location panel ----------------
function pairUp(xs, ys) {
  const n = Math.min(xs.length, ys.length);
  return d3.range(n).map(i => ({ x: xs[i], y: ys[i] }));
}
const slPoints = pairUp(edgeLogFit, edgeRootRes)
  .concat(pairUp(coreLogFit, coreRootRes))
  .concat(pairUp(denseLogFit, denseRootRes));

svg.append("g").selectAll("circle").data(slPoints).join("circle")
  .attr("cx", d => xF(d.x)).attr("cy", d => yF(d.y))
  .call(pointStyle, 1.35);

drawAxes(xF, yF, slXTicks, slYTicks, botBox, 27, 24);
drawTitles(botBox, slXTitle, slYTitle, 721);

// ---------------- stamp across the page ----------------
svg.append("text")
  .attr("transform", "translate(30,730) rotate(-52.5) scale(0.95,1.4)")
  .attr("font-family", "'Liberation Serif', 'Times New Roman', serif")
  .attr("font-weight", "bold")
  .attr("font-size", 134)
  .attr("fill", "#cccccc")
  .style("mix-blend-mode", "multiply")
  .text(stampText);
</script>
</body>
</html>
